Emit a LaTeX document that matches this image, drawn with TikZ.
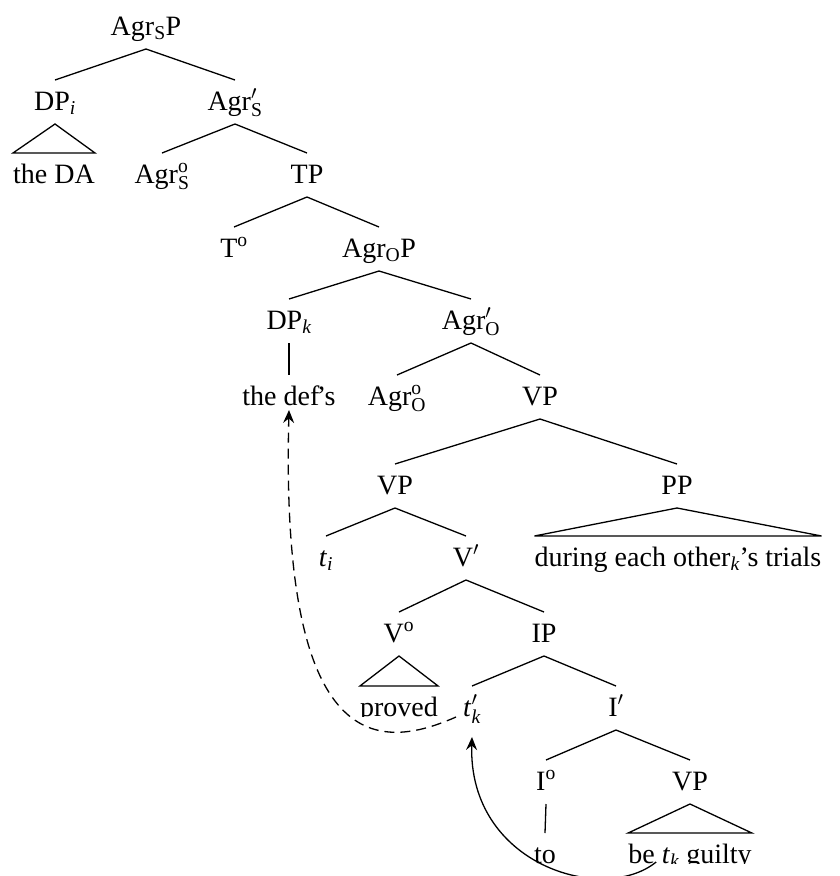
\documentclass[tikz,border=0pt]{standalone}
\usepackage{fix-cm}
\usepackage{amsmath}
\usepackage{fontspec}
\setmainfont{Liberation Serif}
\usetikzlibrary{calc,arrows.meta}

% branch from a mother label down to a daughter label
\newcommand\tbranch[2]{\draw[branch] ($(#1.base)+(0,-14)$) -- ($(#2.base)+(0,30)$);}
% triangle (roof) over an unanalysed constituent
\newcommand\troof[2]{\draw[branch] ($(#1.base)+(0,-14)$) -- ($(#2.base east)+(0,30)$) -- ($(#2.base west)+(0,30)$) -- cycle;}

\tikzset{
  lab/.style={anchor=base, inner sep=0pt, font=\fontsize{28}{34}\selectfont},
  branch/.style={line width=1.3pt, line join=miter},
  move/.style={line width=1.3pt, -{Stealth[length=13pt,width=11pt,inset=4.5pt]}},
}

\begin{document}
\begin{tikzpicture}[x=1pt,y=1pt]
\useasboundingbox (0,0) rectangle (840,-876);

% labels
\node[lab] (agrsp)  at (146,-35)  {Agr$_{\textrm{S}}$P};
\node[lab] (dpi)    at (55,-110)  {DP$_{\textit{i}}$};
\node[lab] (agrs1)  at (235,-110) {Agr$'_{\textrm{S}}$};
\node[lab] (theda)  at (54,-183)  {the DA};
\node[lab] (agrs0)  at (162,-183) {Agr$^{\textrm{o}}_{\textrm{S}}$};
\node[lab] (tp)     at (307,-183) {TP};
\node[lab] (t0)     at (234,-257) {T$^{\textrm{o}}$};
\node[lab] (agrop)  at (379,-257) {Agr$_{\textrm{O}}$P};
\node[lab] (dpk)    at (289,-329) {DP$_{\textit{k}}$};
\node[lab] (agro1)  at (471,-329) {Agr$'_{\textrm{O}}$};
\node[lab] (defs)   at (289,-405) {the def\kern-2.5pt’s};
\node[lab] (agro0)  at (397,-405) {Agr$^{\textrm{o}}_{\textrm{O}}$};
\node[lab] (vpa)    at (540,-405) {VP};
\node[lab] (vpb)    at (395,-494) {VP};
\node[lab] (pp)     at (677,-494) {PP};
\node[lab] (ti)     at (326,-566) {\textit{t}$_{\textit{i}}$};
\node[lab] (v1)     at (466,-566) {V$'$};
\node[lab] (trials) at (678,-566) {during each other$_{\textit{k}}$’s trials};
\node[lab] (v0)     at (399,-642) {V$^{\textrm{o}}$};
\node[lab] (ip)     at (544,-642) {IP};
\node[lab] (proved) at (399,-716) {proved};
\node[lab] (tk2)    at (472,-716) {\textit{t}$'_{\textit{k}}$};
\node[lab] (i1)     at (616,-716) {I$'$};
\node[lab] (i0)     at (546,-790) {I$^{\textrm{o}}$};
\node[lab] (vpc)    at (690,-790) {VP};
\node[lab] (to)     at (545,-863) {to};
\node[lab] (guilty) at (690,-863) {be \textit{t}$_{\textit{k}}$ guilty};

% branches
\tbranch{agrsp}{dpi}  \tbranch{agrsp}{agrs1}
\troof{dpi}{theda}
\tbranch{agrs1}{agrs0} \tbranch{agrs1}{tp}
\tbranch{tp}{t0}      \tbranch{tp}{agrop}
\tbranch{agrop}{dpk}  \tbranch{agrop}{agro1}
\tbranch{dpk}{defs}
\tbranch{agro1}{agro0} \tbranch{agro1}{vpa}
\tbranch{vpa}{vpb}    \tbranch{vpa}{pp}
\tbranch{vpb}{ti}     \tbranch{vpb}{v1}
\troof{pp}{trials}
\tbranch{v1}{v0}      \tbranch{v1}{ip}
\troof{v0}{proved}
\tbranch{ip}{tk2}     \tbranch{ip}{i1}
\tbranch{i1}{i0}      \tbranch{i1}{vpc}
\tbranch{i0}{to}
\troof{vpc}{guilty}

% the movement curves sit on the baseline of the roofed strings
\fill[white] ($(proved.base west)+(-1,-1)$) rectangle ($(proved.base east)+(1,-12)$);
\fill[white] ($(guilty.base west)+(-1,-1)$) rectangle ($(guilty.base east)+(1,-14)$);

\coordinate (dstart) at ($(tk2.base west)+(-7,-1)$);
\coordinate (dend)   at ($(defs.base)+(0,-5)$);
\draw[move, dash pattern=on 10pt off 6pt] (dstart) .. controls +(-75,-33) and +(-9,-350) .. (dend);

\coordinate (sstart) at ($(guilty.base west)+(28,1)$);
\coordinate (send)   at ($(tk2.base)+(0,-21)$);
\draw[move] (sstart) .. controls +(-53,-43) and +(-4,-128) .. (send);
\end{tikzpicture}
\end{document}
